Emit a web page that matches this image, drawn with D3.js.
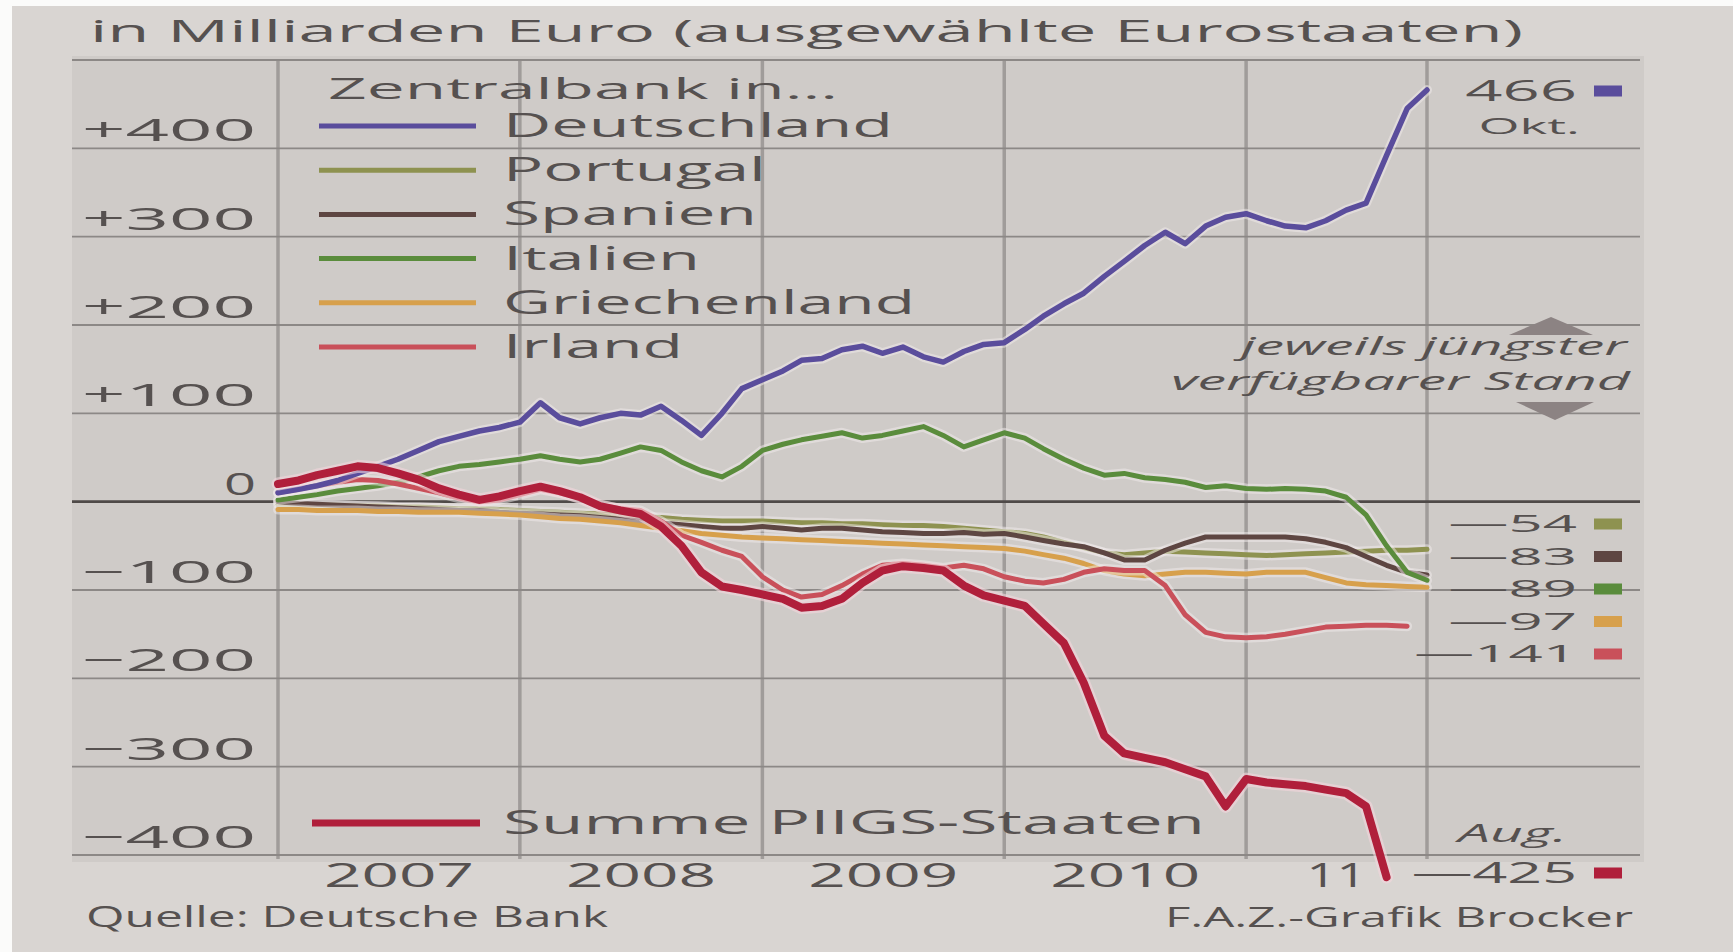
<!DOCTYPE html>
<html lang="de">
<head>
<meta charset="utf-8">
<script src="https://cdn.jsdelivr.net/npm/d3@7"></script>
<style>
  html, body { margin: 0; padding: 0; background: #fbfbfa; }
  svg { display: block; }
  text { font-family: "Open Sans", "Noto Sans", sans-serif; }
</style>
</head>
<body>
<script>
// Target2-Salden ausgewählter Zentralbanken des Eurosystems,
// Monatswerte ab Januar 2007, in Milliarden Euro.

const yearLabels = ["2007", "2008", "2009", "2010", "11"];
const yTicks = [-400, -300, -200, -100, 0, 100, 200, 300, 400];
const gridValues = [-400, -300, -200, -100, 0, 100, 200, 300, 400, 500];

const countryNames = ["Deutschland", "Portugal", "Spanien", "Italien", "Griechenland", "Irland"];
const sumName = "Summe PIIGS-Staaten";

const deutschland = [
  10, 14, 18, 24, 32, 40, 48, 58, 68, 74, 80, 84,
  90, 112, 95, 88, 95, 100, 98, 108, 92, 75, 100, 128,
  138, 148, 160, 162, 172, 176, 168, 175, 164, 158, 170, 178,
  180, 195, 210, 224, 236, 255, 272, 290, 305, 292, 312, 322,
  326, 318, 312, 310, 318, 330, 338, 392, 445, 466
];
const portugal = [
  -3, -3, -4, -4, -5, -5, -6, -6, -7, -8, -8, -9,
  -10, -11, -12, -13, -14, -15, -17, -18, -20, -21, -22, -22,
  -22, -23, -24, -24, -25, -25, -26, -27, -27, -28, -30, -32,
  -34, -36, -40, -46, -52, -58, -60, -58, -56, -57, -58, -59,
  -60, -61, -60, -59, -58, -57, -56, -55, -55, -54
];
const spanien = [
  0, -2, -3, -4, -5, -6, -7, -8, -9, -10, -10, -12,
  -13, -14, -15, -16, -18, -20, -22, -24, -26, -28, -30, -30,
  -28, -30, -32, -30, -30, -32, -34, -35, -36, -36, -35, -37,
  -36, -40, -44, -48, -51, -58, -66, -66, -55, -47, -40, -40,
  -40, -40, -40, -42, -46, -52, -62, -72, -80, -83
];
const italien = [
  2, 5, 8, 12, 15, 18, 22, 28, 35, 40, 42, 45,
  48, 52, 48, 45, 48, 55, 62, 58, 45, 35, 28, 40,
  58, 65, 70, 74, 78, 72, 75, 80, 85, 75, 62, 70,
  78, 72, 60, 48, 38, 30, 32, 27, 25, 22, 16, 18,
  15, 14, 15, 14, 12, 5, -15, -50, -80, -89
];
const griechenland = [
  -9, -9, -10, -10, -10, -11, -11, -12, -12, -12, -13, -14,
  -15, -17, -19, -20, -22, -24, -27, -30, -33, -36, -38, -40,
  -41, -42, -43, -44, -45, -46, -47, -48, -49, -50, -51, -52,
  -53, -56, -60, -64, -70, -78, -82, -84, -82, -80, -80, -81,
  -82, -80, -80, -80, -86, -92, -94, -95, -96, -97
];
const irland = [
  10, 14, 18, 22, 25, 24, 20, 15, 10, 4, 0, 2,
  8, 14, 10, 4, -4, -8, -10, -22, -38, -46, -55, -62,
  -85, -100, -108, -105, -95, -82, -72, -70, -72, -75, -72, -76,
  -85, -90, -92, -88, -80, -76, -78, -78, -95, -128, -148, -153,
  -154, -153, -150, -146, -142, -141, -140, -140, -141
];
const piigs = [
  20, 24, 30, 35, 40, 38, 32, 25, 15, 8, 2, 6,
  12, 17, 12, 5, -5, -10, -14, -28, -50, -80, -96, -100,
  -105, -110, -120, -118, -110, -92, -78, -73, -75, -78, -95, -106,
  -112, -118, -138, -160, -205, -265, -285, -290, -295, -303, -311, -345,
  -314, -318, -320, -322, -326, -330, -345, -425
];

const countryValues = [deutschland, portugal, spanien, italien, griechenland, irland];

// Darstellung
const colors = {
  Deutschland: "#5a4d9c",
  Portugal: "#8e9250",
  Spanien: "#5e4642",
  Italien: "#5a8c3c",
  Griechenland: "#d7a04c",
  Irland: "#c9505a",
  PIIGS: "#b01f3b"
};
const textColor = "#565150";
const W = 1733, H = 952;
const SX = 2.1;               // horizontale Streckung der Schrift

const months = d3.timeMonth.range(new Date(2007, 0, 1), new Date(2011, 10, 1));
const x = d3.scaleTime().domain([new Date(2007, 0, 1), new Date(2011, 9, 1)]).range([278, 1427]);
const y = d3.scaleLinear().domain([-400, 500]).range([855, 60]);

const svg = d3.select("body").append("svg").attr("width", W).attr("height", H);

function addText(g, str, px, py, o = {}) {
  const t = g.append("text").text(str)
    .attr("font-size", o.size || 30)
    .attr("fill", o.color || textColor);
  if (o.italic) t.attr("font-style", "italic");
  if (o.width) {
    const left = o.anchor === "end" ? px - o.width : o.anchor === "middle" ? px - o.width / 2 : px;
    t.attr("x", left).attr("y", py)
      .attr("textLength", o.width).attr("lengthAdjust", "spacingAndGlyphs");
  } else {
    t.attr("text-anchor", o.anchor || "start")
      .attr("transform", `translate(${px},${py}) scale(${o.sx || SX},1)`);
  }
  return t;
}

// Papier und Diagrammfläche
svg.append("rect").attr("x", 12).attr("y", 6).attr("width", W - 12).attr("height", H - 6).attr("fill", "#d9d5d2");
svg.append("rect").attr("x", 72).attr("y", 56).attr("width", 1572).attr("height", 806).attr("fill", "#cfcbc8");

// Titelzeile
addText(svg, "in Milliarden Euro (ausgewählte Eurostaaten)", 90, 42, { size: 31, width: 1433 });

// Senkrechte Linien: Jahresgrenzen und rechter Rand
const vDates = [2007, 2008, 2009, 2010, 2011].map(yr => new Date(yr, 0, 1)).concat([x.domain()[1]]);
svg.append("g").selectAll("line").data(vDates).join("line")
  .attr("x1", d => x(d)).attr("x2", d => x(d))
  .attr("y1", y(500)).attr("y2", y(-400) + 4)
  .attr("stroke", "#a09c9a").attr("stroke-width", 3.5);

// Waagerechte Gitterlinien
svg.append("g").selectAll("line").data(gridValues).join("line")
  .attr("x1", 72).attr("x2", 1640)
  .attr("y1", d => y(d)).attr("y2", d => y(d))
  .attr("stroke", d => d === 0 ? "#4f4a48" : "#8c8886")
  .attr("stroke-width", d => d === 0 ? 2.6 : 1.8);

// Y-Achse: Beschriftung sitzt auf der jeweiligen Linie
const yAxis = d3.axisLeft(y).tickValues(yTicks).tickSize(0)
  .tickFormat(d => d > 0 ? "+" + d : d < 0 ? "\u2212" + Math.abs(d) : "0");
const ya = svg.append("g").attr("transform", `translate(${x.range()[0]},0)`).call(yAxis)
  .attr("font-family", null).attr("font-size", null).attr("color", textColor);
ya.select(".domain").remove();
ya.selectAll(".tick text")
  .attr("x", -22).attr("dy", null).attr("y", -7.5)
  .attr("font-size", 31)
  .attr("textLength", d => d === 0 ? 32 : 174)
  .attr("lengthAdjust", "spacingAndGlyphs");

// X-Achse: Jahreszahlen mittig im jeweiligen Jahr
const domainEnd = x.domain()[1];
yearLabels.forEach((lab, i) => {
  const a = new Date(2007 + i, 0, 1);
  const b = new Date(Math.min(+new Date(2008 + i, 0, 1), +domainEnd));
  addText(svg, lab, (x(a) + x(b)) / 2, 887, { size: 32, anchor: "middle", width: lab.length === 4 ? 150 : 60 });
});

// Linien
const line = d3.line().x((d, i) => x(months[i])).y(d => y(d));
const drawOrder = ["Portugal", "Spanien", "Griechenland", "Italien", "Irland", "Deutschland"];
const gLines = svg.append("g").attr("fill", "none").attr("stroke-linejoin", "round").attr("stroke-linecap", "round");
drawOrder.forEach(name => {
  const vals = countryValues[countryNames.indexOf(name)];
  gLines.append("path").attr("d", line(vals))
    .attr("stroke", "#f1ecec").attr("stroke-opacity", 0.5).attr("stroke-width", 10);
  gLines.append("path").attr("d", line(vals))
    .attr("stroke", colors[name]).attr("stroke-width", name === "Deutschland" ? 5.5 : 5);
});
gLines.append("path").attr("d", line(piigs))
  .attr("stroke", "#f3d6dc").attr("stroke-opacity", 0.6).attr("stroke-width", 13);
gLines.append("path").attr("d", line(piigs))
  .attr("stroke", colors.PIIGS).attr("stroke-width", 8);

// Legende
addText(svg, "Zentralbank in...", 328, 99, { size: 29, width: 510 });
const legendWidths = [390, 263, 254, 197, 412, 180];
countryNames.forEach((name, i) => {
  const ly = 126 + i * 44.2;
  svg.append("line").attr("x1", 319).attr("x2", 476).attr("y1", ly).attr("y2", ly)
    .attr("stroke", colors[name]).attr("stroke-width", 5);
  addText(svg, name, 503, ly + 11, { size: 32, width: legendWidths[i] });
});
svg.append("line").attr("x1", 312).attr("x2", 480).attr("y1", 823).attr("y2", 823)
  .attr("stroke", colors.PIIGS).attr("stroke-width", 7);
addText(svg, sumName, 503, 834, { size: 32, width: 702 });

// Rechte Randbeschriftung
const labelRight = 1577;
function squareMark(cy, color) {
  svg.append("rect").attr("x", 1594).attr("y", cy - 5.5).attr("width", 28).attr("height", 11).attr("fill", color);
}

const deLast = deutschland[deutschland.length - 1];
addText(svg, String(deLast), labelRight, 101, { size: 30, anchor: "end", sx: 2.17 });
squareMark(91, colors.Deutschland);
addText(svg, "Okt.", 1580, 134, { size: 22, anchor: "end", sx: 2.4 });

addText(svg, "jeweils jüngster", 1627, 355, { size: 25, italic: true, anchor: "end", width: 386 });
addText(svg, "verfügbarer Stand", 1630, 390, { size: 25, italic: true, anchor: "end", width: 459 });
svg.append("path").attr("d", "M1509,335 L1593,335 L1551,317 Z").attr("fill", "#8c8383");
svg.append("path").attr("d", "M1516,402 L1594,402 L1555,420 Z").attr("fill", "#8c8383");

// Jüngste Werte der Länder, nach Höhe gestaffelt
const latest = countryNames.slice(1).map(name => {
  const vals = countryValues[countryNames.indexOf(name)];
  return { name, value: vals[vals.length - 1] };
}).sort((a, b) => b.value - a.value);
latest.forEach((d, i) => {
  const by = 532 + i * 32.5;
  addText(svg, "\u2014" + Math.abs(d.value), labelRight, by, { size: 23.5, anchor: "end", sx: 2.55 });
  squareMark(by - 8, colors[d.name]);
});

// Summe PIIGS
addText(svg, "Aug.", 1567, 842, { size: 26, italic: true, anchor: "end", sx: 2.2 });
const piigsLast = piigs[piigs.length - 1];
addText(svg, "\u2014" + Math.abs(piigsLast), labelRight, 883, { size: 29, anchor: "end" });
squareMark(873, colors.PIIGS);

// Fußzeile
addText(svg, "Quelle: Deutsche Bank", 86, 927, { size: 30, width: 522 });
addText(svg, "F.A.Z.-Grafik Brocker", 1633, 927, { size: 28, anchor: "end", width: 468 });
</script>
</body>
</html>
